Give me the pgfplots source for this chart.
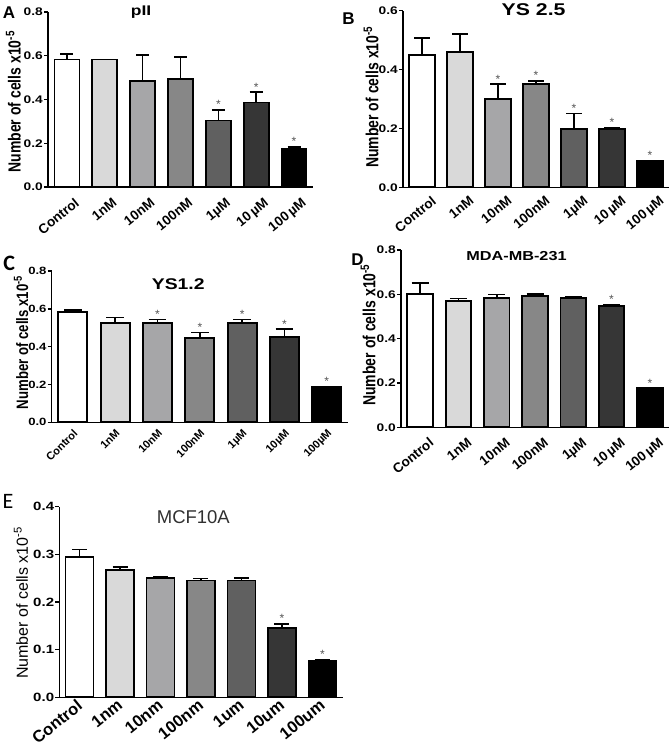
\documentclass[border=0pt]{standalone}
\usepackage{pgfplots}
\pgfplotsset{compat=1.18}
\usepackage{fontspec}
\setmainfont{Liberation Sans}
\newfontfamily\wide{Liberation Sans}[FakeStretch=1.25]
\newfontfamily\narrow{Liberation Sans}[FakeStretch=0.8]
\newfontfamily\carl{Carlito}
\definecolor{g1}{HTML}{D9D9D9}
\definecolor{g2}{HTML}{A6A6A8}
\definecolor{g3}{HTML}{878787}
\definecolor{g4}{HTML}{606060}
\definecolor{g5}{HTML}{363636}
\definecolor{stargray}{HTML}{555555}
\definecolor{titlegray}{HTML}{303030}
\newcommand{\fs}[1]{\fontsize{#1}{#1}\selectfont}
\def\capsz{6.5pt}
\pgfplotsset{
  panel/.style={
    scale only axis, anchor=south west, clip=false,
    axis lines=left,
    axis line style={line width=1.4pt,-},
    xmin=-0.5, xmax=6.5, ymin=0,
    xtick={0,...,6},
    xtick style={draw=none},
    ytick style={line width=1.4pt, black},
    tick align=outside, major tick length=4pt,
    /pgf/number format/assume math mode=true,
    yticklabel style={inner sep=1pt, /pgf/number format/fixed, /pgf/number format/fixed zerofill, /pgf/number format/precision=1},
    ylabel style={anchor=center},
    title style={anchor=center, yshift=0pt},
    xticklabel style={anchor=north east, inner sep=0pt},
  },
  b/.style={ybar, bar shift=0pt, draw=black, line width=1.8pt, fill=#1,
    error bars/.cd, y dir=plus, y explicit,
    error bar style={line width=1.6pt, black, solid},
    error mark options={rotate=90, mark size=\capsz, line width=1.6pt, black}},
  stars/.style={draw=none, mark=none, nodes near coords, point meta=explicit symbolic,
    nodes near coords style={font=\fs{12}, text=stargray, anchor=south, inner sep=1pt}},
}
\begin{document}
\begin{tikzpicture}
\useasboundingbox (0,0) rectangle (672pt,747pt);
% ---------------- A ----------------
\def\capsz{6.5pt}
\begin{axis}[panel, at={(48pt,560pt)}, width=265pt, height=175pt,
  ymax=0.8, ytick={0,0.2,0.4,0.6,0.8}, bar width=25pt,
  xticklabels={Control,1nM,10nM,100nM,1µM,10\,µM,100\,µM},
  yticklabel style={font=\wide\bfseries\fs{11}},
  xticklabel style={font=\bfseries\fs{13.5}, xshift=7pt, yshift=-6pt, rotate=39},
  ylabel={Number of cells x10\textsuperscript{-5}},
  ylabel style={font=\narrow\bfseries\fs{17.5}, at={(axis description cs:-0.131,0.487)}},
  title={pII},
  title style={font=\wide\bfseries\fs{14}, at={(axis description cs:0.351,0.964)}}]
\addplot[b=white] coordinates {(0,0.583) +- (0,0.026)};
\addplot[b=g1] coordinates {(1,0.583) +- (0,0.0)};
\addplot[b=g2] coordinates {(2,0.486) +- (0,0.118)};
\addplot[b=g3] coordinates {(3,0.493) +- (0,0.101)};
\addplot[b=g4] coordinates {(4,0.304) +- (0,0.048)};
\addplot[b=g5] coordinates {(5,0.386) +- (0,0.047)};
\addplot[b=black] coordinates {(6,0.173) +- (0,0.011)};
\addplot[stars] coordinates {(4,0.352)[*] (5,0.433)[*] (6,0.184)[*]};
\end{axis}
% ---------------- B ----------------
\def\capsz{8pt}
\begin{axis}[panel, at={(403pt,559.7pt)}, width=266pt, height=176.6pt,
  ymax=0.6, ytick={0,0.2,0.4,0.6}, bar width=25.6pt,
  xticklabels={Control,1nM,10nM,100nM,1µM,10\,µM,100\,µM},
  yticklabel style={font=\wide\bfseries\fs{11}},
  xticklabel style={font=\bfseries\fs{13.5}, xshift=8.8pt, yshift=-3.7pt, rotate=39},
  ylabel={Number of cells x10\textsuperscript{-5}},
  ylabel style={font=\narrow\bfseries\fs{17.5}, at={(axis description cs:-0.120,0.511)}},
  title={YS 2.5},
  title style={font=\wide\bfseries\fs{17}, at={(axis description cs:0.491,0.971)}}]
\addplot[b=white] coordinates {(0,0.449) +- (0,0.059)};
\addplot[b=g1] coordinates {(1,0.460) +- (0,0.061)};
\addplot[b=g2] coordinates {(2,0.301) +- (0,0.049)};
\addplot[b=g3] coordinates {(3,0.351) +- (0,0.010)};
\addplot[b=g4] coordinates {(4,0.199) +- (0,0.052)};
\addplot[b=g5] coordinates {(5,0.199) +- (0,0.004)};
\addplot[b=black] coordinates {(6,0.089) +- (0,0.0)};
\addplot[stars] coordinates {(2,0.350)[*] (3,0.361)[*] (4,0.251)[*] (5,0.203)[*] (6,0.089)[*]};
\end{axis}
% ---------------- C ----------------
\def\capsz{8.8pt}
\begin{axis}[panel, at={(51.7pt,324.7pt)}, width=296.3pt, height=151.3pt,
  ymax=0.8, ytick={0,0.2,0.4,0.6,0.8}, bar width=29pt,
  xticklabels={Control,1nM,10nM,100nM,1µM,10µM,100µM},
  yticklabel style={font=\wide\bfseries\fs{10.5}},
  xticklabel style={font=\bfseries\fs{11}, xshift=-0.2pt, yshift=-2pt, rotate=45},
  ylabel={Number of cells x10\textsuperscript{-5}},
  ylabel style={font=\narrow\bfseries\fs{16.5}, at={(axis description cs:-0.103,0.528)}},
  title={YS1.2},
  title style={font=\wide\bfseries\fs{15.5}, at={(axis description cs:0.427,0.874)}}]
\addplot[b=white] coordinates {(0,0.585) +- (0,0.009)};
\addplot[b=g1] coordinates {(1,0.523) +- (0,0.032)};
\addplot[b=g2] coordinates {(2,0.523) +- (0,0.021)};
\addplot[b=g3] coordinates {(3,0.444) +- (0,0.030)};
\addplot[b=g4] coordinates {(4,0.523) +- (0,0.021)};
\addplot[b=g5] coordinates {(5,0.451) +- (0,0.041)};
\addplot[b=black] coordinates {(6,0.189) +- (0,0.0)};
\addplot[stars] coordinates {(2,0.544)[*] (3,0.474)[*] (4,0.544)[*] (5,0.492)[*] (6,0.189)[*]};
\end{axis}
% ---------------- D ----------------
\def\capsz{8.5pt}
\begin{axis}[panel, at={(401pt,319.7pt)}, width=268pt, height=177.3pt,
  ymax=0.8, ytick={0,0.2,0.4,0.6,0.8}, bar width=25.6pt,
  xticklabels={Control,1nM,10nM,100nM,1µM,10\,µM,100\,µM},
  yticklabel style={font=\wide\bfseries\fs{11}},
  xticklabel style={font=\bfseries\fs{13.5}, xshift=8.3pt, yshift=-5.4pt, rotate=39},
  ylabel={Number of cells x10\textsuperscript{-5}},
  ylabel style={font=\narrow\bfseries\fs{17.5}, at={(axis description cs:-0.123,0.521)}},
  title={MDA-MB-231},
  title style={font=\wide\bfseries\fs{13}, at={(axis description cs:0.431,0.93)}}]
\addplot[b=white] coordinates {(0,0.600) +- (0,0.051)};
\addplot[b=g1] coordinates {(1,0.571) +- (0,0.011)};
\addplot[b=g2] coordinates {(2,0.582) +- (0,0.018)};
\addplot[b=g3] coordinates {(3,0.592) +- (0,0.010)};
\addplot[b=g4] coordinates {(4,0.582) +- (0,0.009)};
\addplot[b=g5] coordinates {(5,0.547) +- (0,0.006)};
\addplot[b=black] coordinates {(6,0.176) +- (0,0.0)};
\addplot[stars] coordinates {(5,0.553)[*] (6,0.176)[*]};
\end{axis}
% ---------------- E ----------------
\def\capsz{7.5pt}
\begin{axis}[panel, at={(59.3pt,49.7pt)}, width=283.4pt, height=190.6pt,
  ymax=0.4, ytick={0,0.1,0.2,0.3,0.4}, bar width=28pt,
  xticklabels={Control,1nm,10nm,100nm,1um,10um,100um},
  yticklabel style={font=\wide\bfseries\fs{12}},
  xticklabel style={font=\bfseries\fs{16.5}, xshift=-3.6pt, yshift=3pt, rotate=39},
  ylabel={Number of cells x10\textsuperscript{-5}},
  ylabel style={font=\fs{16}, at={(axis description cs:-0.135,0.495)}},
  title={MCF10A},
  title style={font=\fs{18.5}, text=titlegray, at={(axis description cs:0.473,0.913)}}]
\addplot[b=white] coordinates {(0,0.294) +- (0,0.016)};
\addplot[b=g1] coordinates {(1,0.267) +- (0,0.006)};
\addplot[b=g2] coordinates {(2,0.250) +- (0,0.003)};
\addplot[b=g3] coordinates {(3,0.245) +- (0,0.004)};
\addplot[b=g4] coordinates {(4,0.245) +- (0,0.006)};
\addplot[b=g5] coordinates {(5,0.146) +- (0,0.008)};
\addplot[b=black] coordinates {(6,0.076) +- (0,0.002)};
\addplot[stars] coordinates {(5,0.154)[*] (6,0.078)[*]};
\end{axis}
% panel letters
\node[font=\bfseries\fs{17}] at (9pt,734pt) {A};
\node[font=\bfseries\fs{17}] at (348.5pt,728pt) {B};
\node[font=\carl\bfseries\fs{22}] at (9.2pt,484pt) {C};
\node[font=\bfseries\fs{17}] at (357.5pt,487pt) {D};
\node[font=\carl\fs{22}] at (8pt,245.3pt) {E};
\end{tikzpicture}
\end{document}
